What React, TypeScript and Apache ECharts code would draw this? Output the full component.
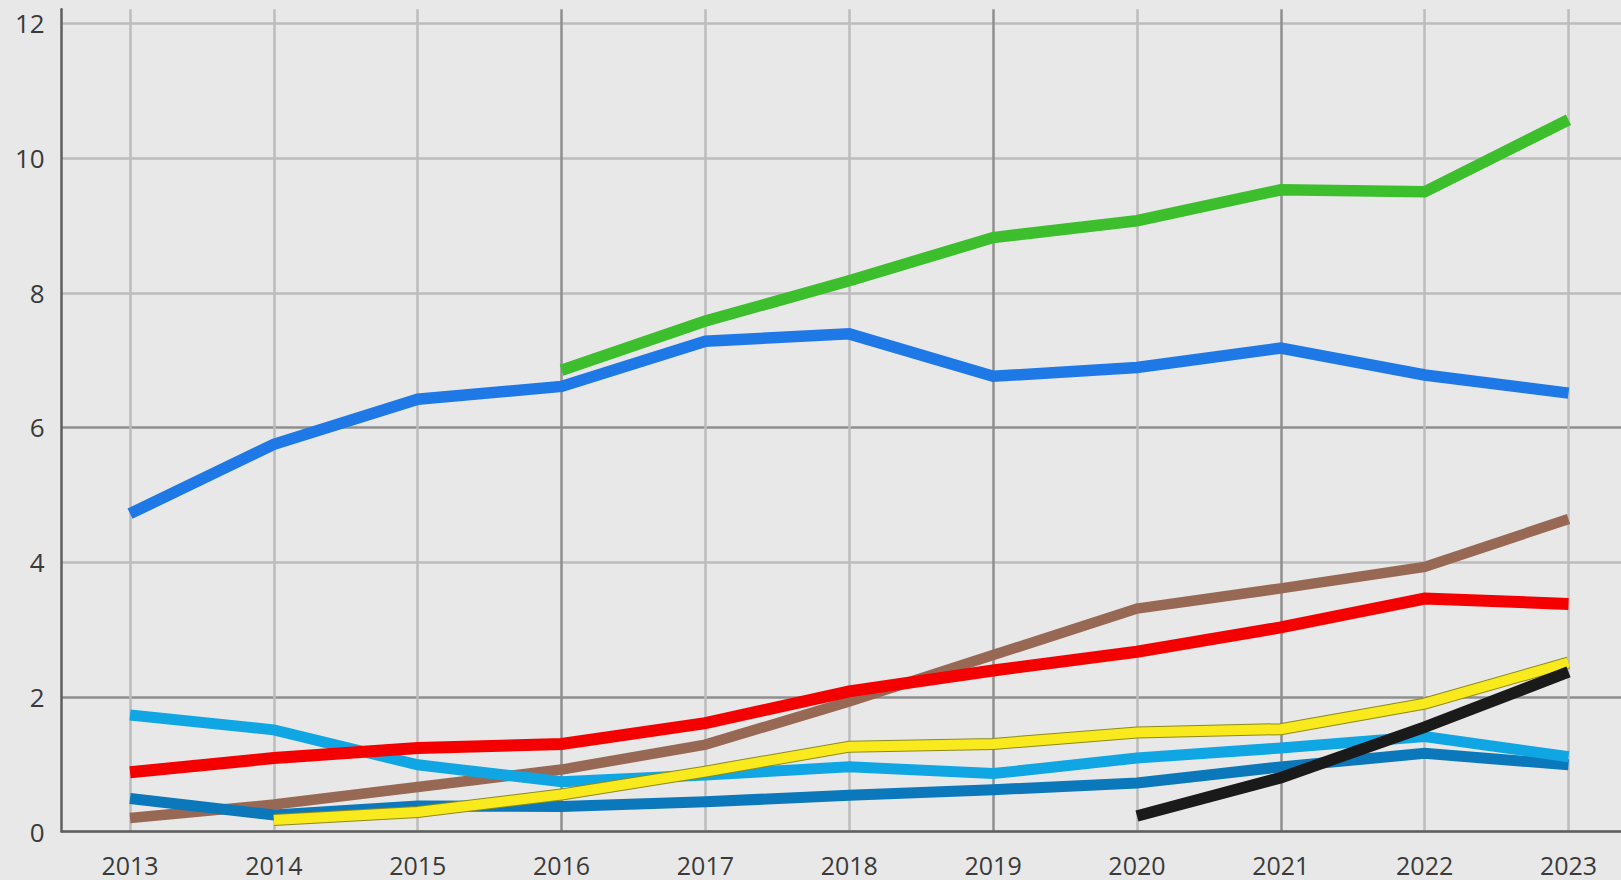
import React, { useEffect, useRef } from "react";
import * as echarts from "echarts";

const years = [2013, 2014, 2015, 2016, 2017, 2018, 2019, 2020, 2021, 2022, 2023];
const yTicks = [0, 2, 4, 6, 8, 10, 12];

const greenValues = [null, null, null, 6.85, 7.58, 8.18, 8.82, 9.07, 9.53, 9.5, 10.57];
const blueValues = [4.72, 5.75, 6.42, 6.61, 7.28, 7.39, 6.76, 6.89, 7.18, 6.78, 6.51];
const brownValues = [0.2, 0.4, 0.66, 0.92, 1.29, 1.93, 2.62, 3.31, 3.61, 3.93, 4.64];
const redValues = [0.88, 1.09, 1.24, 1.3, 1.61, 2.08, 2.39, 2.67, 3.03, 3.46, 3.38];
const yellowValues = [null, 0.17, 0.29, 0.55, 0.89, 1.26, 1.3, 1.47, 1.52, 1.9, 2.51];
const lightBlueValues = [1.73, 1.51, 0.99, 0.74, 0.84, 0.96, 0.86, 1.09, 1.24, 1.41, 1.11];
const darkBlueValues = [0.49, 0.245, 0.38, 0.37, 0.44, 0.54, 0.62, 0.72, 0.96, 1.16, 0.99];
const blackValues = [null, null, null, null, null, null, null, 0.23, 0.8, 1.55, 2.37];

const toPairs = (vals: (number | null)[]) =>
  years.map((y, i) => [y, vals[i] === null ? "-" : vals[i]]);

const line = (name: string, vals: (number | null)[], color: string, width: number) => ({
  name,
  type: "line",
  data: toPairs(vals),
  symbol: "none",
  lineStyle: { color, width, cap: "butt", join: "miter" },
  itemStyle: { color },
  emphasis: { disabled: true },
});

export default function App() {
  const ref = useRef<HTMLDivElement>(null);
  useEffect(() => {
    document.body.style.margin = "0";
    document.body.style.background = "#e8e8e8";
    const chart = echarts.init(ref.current!, null, { renderer: "svg" });
    const light = "#bcbcbc";
    const dark = "#8f8f8f";
    chart.setOption({
      animation: false,
      backgroundColor: "#e8e8e8",
      grid: { left: 61.7, right: 0, top: 9.3, bottom: 48.5, containLabel: false },
      xAxis: {
        type: "value",
        min: 2012.525,
        max: 2023.365,
        axisLine: { show: true, onZero: false, lineStyle: { color: "#5f5f5f", width: 2.5 } },
        axisTick: { show: false, customValues: years },
        axisLabel: {
          customValues: years,
          formatter: (v: number) => String(v),
          fontFamily: "Open Sans",
          fontSize: 25,
          lineHeight: 20,
          color: "#3a3a3a",
          margin: 23,
        },
        splitLine: {
          show: true,
          lineStyle: {
            width: 2.5,
            color: [light, light, light, dark, light, light, dark, light, dark, light, light],
          },
        },
      },
      yAxis: {
        type: "value",
        min: 0,
        max: 12.21,
        axisLine: { show: true, lineStyle: { color: "#5f5f5f", width: 2.5 } },
        axisTick: { show: false, customValues: yTicks },
        axisLabel: {
          customValues: yTicks,
          formatter: (v: number) => String(v),
          fontFamily: "Open Sans",
          fontSize: 26,
          color: "#3a3a3a",
          margin: 17,
        },
        splitLine: {
          show: true,
          lineStyle: {
            width: 2.5,
            color: [light, dark, light, dark, light, light, light],
          },
        },
      },
      series: [
        line("brown", brownValues, "#976955", 10.5),
        line("darkblue", darkBlueValues, "#0a78ba", 11),
        line("lightblue", lightBlueValues, "#10a5e3", 11),
        line("red", redValues, "#f40000", 12),
        line("yellowEdge", yellowValues, "#8c8a1e", 12),
        line("yellow", yellowValues, "#f9ea1e", 10),
        line("black", blackValues, "#1a1a1a", 11.5),
        line("blue", blueValues, "#1e78e6", 11.5),
        line("green", greenValues, "#3dbe2d", 11.5),
      ],
    });
    return () => chart.dispose();
  }, []);
  return (
    <div
      ref={ref}
      style={{ position: "fixed", left: 0, top: 0, width: 1621, height: 880, background: "#e8e8e8" }}
    />
  );
}
